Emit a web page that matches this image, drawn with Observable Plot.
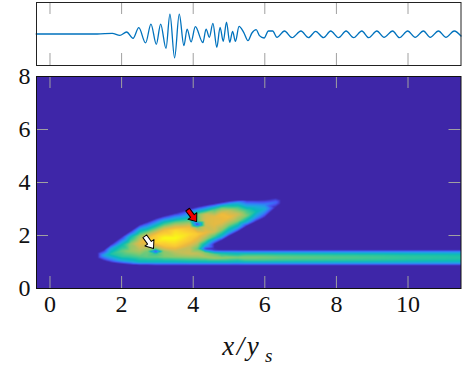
<!DOCTYPE html>
<html><head><meta charset="utf-8">
<script src="https://cdn.jsdelivr.net/npm/d3@7"></script>
<script src="https://cdn.jsdelivr.net/npm/@observablehq/plot@0.6"></script>
<style>html,body{margin:0;padding:0;background:#fff}svg{display:block;overflow:visible}</style>
</head><body><div id="c"></div>
<script>
const xDomain = [-0.377, 11.48];
const xTicks = [0,2,4,6,8,10];
const yTicks = [0,2,4,6,8];

const waveX = [-0.386,1.32,1.74,1.95,2.14,2.32,2.48,2.67,2.82,2.97,3.09,3.24,3.35,3.48,3.61,3.74,3.83,3.94,4.06,4.27,4.36,4.45,4.55,4.66,4.75,4.84,4.93,5.02,5.10,5.18,5.28,5.41,5.53,5.64,5.76,5.85,5.98,6.10,6.22,6.34,6.55,6.76,7.01,7.22,7.42,7.64,7.84,8.06,8.27,8.48,8.71,8.90,9.13,9.33,9.57,9.76,9.99,10.20,10.43,10.62,10.85,11.06,11.29,11.48];
const waveV = [0,0,2,-4,6,-13,19,-27,30,-31,30,-43,60,-72,60,-35,15,-24,22,-26,15,-10,32,-40,20,-22,36,-25,8,-22,23,5,-20,3,13,-5,-12,9,9,-10,9,-11,9,-11,8,-11,9,-11,9,-11,9,-11,9,-10,9,-11,9,-10,9,-10,9,-10,9,-6];

const columnX = [-0.377,1.33,1.5,1.7,2.0,2.25,2.5,2.7,2.95,3.2,3.5,3.9,4.12,4.34,4.6,4.8,5.0,5.25,5.5,5.75,6.0,6.3,6.45,7,8,9,10,11.48];
const columnY = [
 [0,8],
 [1.15,1.25,1.35],
 [1.05,1.25,1.45],
 [0.98,1.1,1.3,1.5,1.66],
 [0.93,1.05,1.2,1.42,1.65,1.95],
 [0.9,1.02,1.2,1.42,1.68,1.95,2.17],
 [0.88,1.0,1.2,1.45,1.7,2.0,2.2,2.4],
 [0.88,1.0,1.2,1.4,1.6,1.85,2.1,2.5],
 [0.87,1.0,1.2,1.3,1.4,1.52,1.75,2.0,2.3,2.64],
 [0.87,1.0,1.2,1.4,1.6,1.9,2.2,2.5,2.74],
 [0.87,1.0,1.2,1.4,1.6,1.9,2.2,2.5,2.84],
 [0.87,1.0,1.2,1.33,1.55,1.8,2.05,2.3,2.6,3.0],
 [0.87,1.0,1.2,1.33,1.5,1.75,2.05,2.3,2.42,2.55,2.8,3.08],
 [0.87,1.0,1.2,1.35,1.5,1.62,1.85,2.1,2.35,2.55,2.8,3.14],
 [0.87,1.0,1.15,1.3,1.45,1.52,1.68,1.8,1.95,2.15,2.4,2.7,3.0,3.2],
 [0.87,1.0,1.15,1.32,1.46,1.82,1.95,2.2,2.5,2.8,3.05,3.25],
 [0.87,1.0,1.17,1.33,1.46,1.98,2.1,2.4,2.7,2.95,3.15,3.3],
 [0.87,1.0,1.17,1.33,1.46,2.15,2.3,2.55,2.8,3.05,3.25,3.33],
 [0.87,0.95,1.05,1.17,1.28,1.37,1.46,2.36,2.5,2.75,2.95,3.15,3.34],
 [0.87,0.95,1.05,1.17,1.28,1.37,1.46,2.52,2.68,2.9,3.1,3.34],
 [0.87,0.95,1.05,1.17,1.28,1.37,1.46,2.68,2.85,3.0,3.17,3.35],
 [0.87,0.95,1.05,1.17,1.28,1.37,1.46,3.05,3.25,3.42],
 [0,0.87,0.95,1.05,1.17,1.28,1.37,1.46,3.2,3.35,3.5],
 [0.87,0.95,1.05,1.17,1.28,1.37,1.46,8],
 [0.87,0.95,1.05,1.17,1.28,1.37,1.46],
 [0.87,0.95,1.05,1.17,1.28,1.37,1.46],
 [0.87,0.95,1.05,1.17,1.28,1.37,1.46],
 [0,0.87,0.95,1.05,1.17,1.28,1.37,1.46,8]
];
const columnV = [
 [0,0],
 [0,0,0],
 [0,0.28,0],
 [0,0.2,0.45,0.3,0],
 [0,0.3,0.48,0.55,0.4,0],
 [0,0.32,0.5,0.62,0.62,0.4,0],
 [0,0.38,0.54,0.68,0.78,0.6,0.35,0],
 [0,0.38,0.56,0.58,0.72,0.85,0.6,0],
 [0,0.38,0.56,0.5,0.05,0.62,0.92,0.88,0.5,0],
 [0,0.38,0.6,0.62,0.85,1,0.82,0.42,0],
 [0,0.38,0.62,0.7,0.88,1,0.92,0.55,0],
 [0,0.4,0.64,0.72,0.7,0.86,0.92,0.82,0.5,0],
 [0,0.4,0.64,0.7,0.55,0.72,0.88,0.62,0.03,0.55,0.58,0],
 [0,0.4,0.66,0.6,0.05,0.3,0.62,0.8,0.72,0.75,0.72,0],
 [0,0.4,0.64,0.55,0.05,0,0,0.2,0.5,0.72,0.78,0.78,0.5,0],
 [0,0.4,0.62,0.45,0,0,0.3,0.6,0.78,0.82,0.55,0],
 [0,0.4,0.62,0.4,0,0,0.25,0.6,0.82,0.68,0.38,0],
 [0,0.38,0.6,0.38,0,0,0.3,0.6,0.72,0.52,0.25,0],
 [0,0.25,0.5,0.6,0.5,0.25,0,0,0.3,0.58,0.5,0.25,0],
 [0,0.25,0.5,0.6,0.5,0.25,0,0,0.25,0.42,0.3,0],
 [0,0.25,0.5,0.59,0.5,0.25,0,0,0.18,0.32,0.2,0],
 [0,0.25,0.49,0.58,0.49,0.25,0,0,0.15,0],
 [0,0,0.25,0.49,0.57,0.49,0.25,0,0,0,0],
 [0,0.25,0.48,0.56,0.48,0.25,0,0],
 [0,0.25,0.47,0.54,0.47,0.25,0],
 [0,0.25,0.46,0.52,0.46,0.25,0],
 [0,0.25,0.44,0.49,0.44,0.25,0],
 [0,0,0.25,0.42,0.46,0.42,0.25,0,0]
];
const colorStops = [0,0.1,0.2,0.3,0.4,0.5,0.6,0.7,0.8,0.9,1];
const colorValues = ["#3e26a8","#4752f4","#2e87f7","#1ea8de","#07bab9","#37c897","#86c96e","#c3bf5a","#edb93e","#fcd032","#f9fb15"];

const arrowX = [2.77,3.97];
const arrowY = [1.74,2.75];
const arrowAngle = [144.5,143];

const samples = columnX.flatMap((x,i)=>columnY[i].map((y,j)=>({x,y,v:columnV[i][j]})));
const wave = waveX.map((x,i)=>({x,v:waveV[i]}));
const arrows = arrowX.map((x,i)=>({x,y:arrowY[i],a:arrowAngle[i]}));

const arrowShape = {draw(c,l,r){
  const L=15,h=7,w=2.3,hw=5.5;
  c.moveTo(-w,0);c.lineTo(-w,-(L-h));c.lineTo(-hw,-(L-h));c.lineTo(0,-L);
  c.lineTo(hw,-(L-h));c.lineTo(w,-(L-h));c.lineTo(w,0);c.closePath();
}};

const W=463, tickLen=12, tickColor="#a0a0a0", serif="Liberation Serif";
const topH=66, topFrame=63, botFrame=212;

const topPlot = Plot.plot({
  width:W,height:topH,marginLeft:36,marginRight:2.5,marginTop:2,marginBottom:1,
  x:{domain:xDomain,axis:null},y:{domain:[-95,95],axis:null},
  marks:[
    Plot.ruleX(xTicks,{stroke:tickColor,insetTop:topFrame-tickLen}),
    Plot.ruleX(xTicks,{stroke:tickColor,insetBottom:topFrame-tickLen}),
    Plot.line(wave,{x:"x",y:"v",stroke:"#0072BD",strokeWidth:1.3,curve:"monotone-x"}),
    Plot.frame({stroke:"#222",strokeWidth:1})
  ]
});

const botPlot = Plot.plot({
  width:W,height:311,marginLeft:36,marginRight:2.5,marginTop:10,marginBottom:89,
  x:{domain:xDomain,axis:null},y:{domain:[0,8],axis:null},
  color:{type:"linear",domain:colorStops,range:colorValues,interpolate:"rgb",clamp:true},
  marks:[
    Plot.raster(samples,{x:"x",y:"y",fill:"v",interpolate:"barycentric",pixelSize:1}),
    Plot.ruleX(xTicks,{stroke:tickColor,insetTop:botFrame-tickLen}),
    Plot.ruleX(xTicks,{stroke:tickColor,insetBottom:botFrame-tickLen}),
    Plot.ruleY(yTicks,{stroke:tickColor,insetLeft:424.5-tickLen}),
    Plot.ruleY(yTicks,{stroke:tickColor,insetRight:424.5-tickLen}),
    Plot.vector(arrows.slice(0,1),{x:"x",y:"y",rotate:"a",shape:arrowShape,fill:"white",stroke:"black",strokeWidth:1,anchor:"middle",length:15}),
    Plot.vector(arrows.slice(1),{x:"x",y:"y",rotate:"a",shape:arrowShape,fill:"#f00000",stroke:"black",strokeWidth:1,anchor:"middle",length:15}),
    Plot.frame({stroke:"#111",strokeWidth:1}),
    Plot.text(xTicks,{x:d=>d,frameAnchor:"bottom",dy:23,fontSize:24,fontFamily:serif,fill:"#111"}),
    Plot.text(yTicks,{y:d=>d,frameAnchor:"left",dx:-6,textAnchor:"end",fontSize:24,fontFamily:serif,fill:"#111"}),
    Plot.text(["x/y"],{frameAnchor:"bottom",dx:-7,dy:66,fontSize:27,fontFamily:serif,fontStyle:"italic",fill:"#111",textAnchor:"middle"}),
    Plot.text(["s"],{frameAnchor:"bottom",dx:20,dy:73,fontSize:19,fontFamily:serif,fontStyle:"italic",fill:"#111",textAnchor:"middle"})
  ]
});
botPlot.querySelectorAll("text").forEach(t=>{ if(t.textContent==="x/y") t.style.letterSpacing="2.5px"; });
document.getElementById("c").append(topPlot,botPlot);
</script></body></html>
